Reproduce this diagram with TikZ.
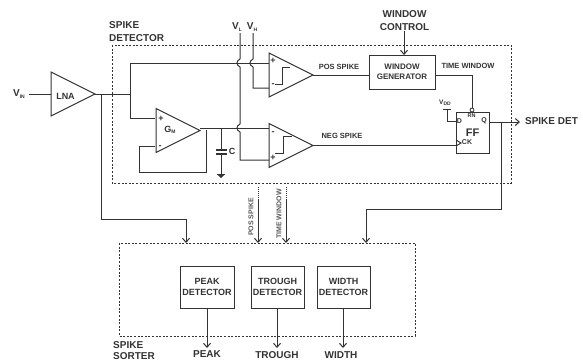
\documentclass[tikz,border=0pt]{standalone}
\usepackage{fontspec}
\setmainfont{Liberation Sans}
\usepackage{xcolor}
\definecolor{wirecolor}{rgb}{0.2, 0.2, 0.2}
\definecolor{labelgray}{rgb}{0.35, 0.35, 0.35}
\usepackage{tikz}
\usetikzlibrary{arrows.meta,shapes.geometric}
\newcommand{\fsize}[1]{\fontsize{#1}{#1pt}\selectfont\bfseries}
\newcommand{\lowidx}[2]{#1\raisebox{-1.5pt}{\fontsize{5}{5}\selectfont #2}}
% vertical wire hopping over a horizontal one
\newcommand{\wirehop}[2]{-- (#1,#2-4) .. controls (#1-4,#2-2) and (#1-4,#2+2) .. (#1,#2+4)}
\tikzset{
  >={Straight Barb[length=4pt,width=7pt]},
  wire/.style={draw=wirecolor,line width=1pt},
  sig/.style={wire,->},
  amp/.style={isosceles triangle,isosceles triangle stretches,draw=wirecolor,line width=1pt,inner sep=0pt,outer sep=0pt,minimum width=44pt,minimum height=44pt,anchor=apex},
  block/.style={rectangle,draw=wirecolor,line width=1pt,inner sep=0pt,outer sep=0pt,align=center,text=wirecolor},
  region/.style={draw=wirecolor,line width=1pt,dash pattern=on 2pt off 1.6pt},
  txt/.style={inner sep=0pt,text=wirecolor,align=center,font=\fsize{#1}},
  txt/.default=10
}
\begin{document}
\begin{tikzpicture}[x=1pt,y=-1pt]
  \useasboundingbox (0,0) rectangle (583,362);

  % Regions
  \draw[region] (112,45) rectangle (511,183);
  \draw[region] (119,243) rectangle (415,336);
  \node[txt,align=left,anchor=west] (detname) at (109,31.5) {SPIKE\\[3pt]DETECTOR};
  \node[txt,align=left,anchor=west] (sortname) at (113,350.5) {SPIKE\\[1.5pt]SORTER};

  % Amplifiers
  \node[amp] (lna) at (95,94) {};
  \node[amp] (gm) at (200,130.5) {};
  \node[amp] (cmpa) at (313,75) {};
  \node[amp] (cmpb) at (313,145.5) {};
  \node[txt=9] (lnatxt) at (65.5,96) {LNA};
  \node[txt=9] (gmtxt) at (170,130) {\lowidx{G}{M}};

  % Blocks
  \node[block,font=\fsize{8},minimum width=66pt,minimum height=34pt] (wingen) at (402,72) {WINDOW\\[2pt]GENERATOR};
  \node[block,font=\fsize{11},minimum width=33pt,minimum height=41pt] (ff) at (472.5,132.5) {FF};
  \node[block,font=\fsize{9},minimum width=54pt,minimum height=42pt] (peak) at (207,287) {PEAK\\[2pt]DETECTOR};
  \node[block,font=\fsize{9},minimum width=53pt,minimum height=42pt] (trough) at (277.5,287) {TROUGH\\[2pt]DETECTOR};
  \node[block,font=\fsize{9},minimum width=53pt,minimum height=42pt] (width) at (343.5,287) {WIDTH\\[2pt]DETECTOR};

  % Texts
  \node[txt] (vin) at (19,94) {\lowidx{V}{IN}};
  \node[txt] (vl) at (237,27) {\lowidx{V}{L}};
  \node[txt] (vh) at (252,27) {\lowidx{V}{H}};
  \node[txt] (winctl) at (404.5,20.5) {WINDOW\\[3pt]CONTROL};
  \node[txt] (spikedet) at (551.5,121.5) {SPIKE DET};
  \node[txt=9] (ctxt) at (232,151) {C};
  \node[txt=7.5] (possp) at (339,67) {POS SPIKE};
  \node[txt=7.5] (negsp) at (342,136) {NEG SPIKE};
  \node[txt=7.5] (timew) at (468,66) {TIME WINDOW};
  \node[txt=7,text=labelgray,rotate=90] (possv) at (251,217) {POS SPIKE};
  \node[txt=7,text=labelgray,rotate=90] (timev) at (279,214) {TIME WINDOW};
  \node[txt] (peakout) at (207,354) {PEAK};
  \node[txt] (troughout) at (277,355) {TROUGH};
  \node[txt] (widthout) at (341,355) {WIDTH};
  \node[txt=6.5] (vddtxt) at (445,103) {\lowidx{V}{DD}};
  \node[txt=7] (dtxt) at (459.5,121) {D};
  \node[txt=7] (qtxt) at (484,121) {Q};
  \node[txt=7] (cktxt) at (467,142.5) {CK};
  \node[txt=5.5] (rntxt) at (471.5,116) {RN};
  \node[txt=9] at (273,61) {+};
  \node[txt=9] at (273,85) {-};
  \node[txt=9] at (273,133) {-};
  \node[txt=9] at (273,158) {+};
  \node[txt=9] at (161,119) {+};
  \node[txt=9] at (160,147) {-};

  % Pins
  \coordinate (vinpin) at (29,94);
  \coordinate (lnain) at (51,94);
  \coordinate (tap) at (101,94);
  \coordinate (split) at (130,94);
  \coordinate (gmplus) at (155,118);
  \coordinate (gmminus) at (155,146);
  \coordinate (cmpaplus) at (269,63);
  \coordinate (cmpaminus) at (269,88);
  \coordinate (cmpbminus) at (269,128);
  \coordinate (cmpbplus) at (269,160);
  \coordinate (capnode) at (221,128);
  \coordinate (qtap) at (501,122);
  \coordinate (dpin) at (456,121);
  \coordinate (vddpin) at (447,110);
  \coordinate (ckpin) at (456,143);

  % Wires
  \draw[wire] (vinpin) -- (lnain);
  \draw[wire] (lna.apex) -- (split);
  \draw[wire] (split) |- (cmpaplus);
  \draw[wire] (split) |- (gmplus);
  \draw[wire] (gmminus) -- (139,146) -- (139,172) -- (206,172) -- (206,130);
  \draw[wire] (200,128) -- (cmpbminus);
  \draw[wire] (240,33) \wirehop{240}{63} \wirehop{240}{128} -- (240,160) -- (cmpbplus);
  \draw[wire] (253,33) \wirehop{253}{63} -- (253,88) -- (cmpaminus);
  \draw[wire] (capnode) -- (221,150);
  \draw[wire,line width=1.6pt] (216,150) -- (227,150) (216,154) -- (227,154);
  \draw[wire] (221,154) -- (221,174);
  \draw[wire] (217,174) -- (225,174);
  \fill[wirecolor] (218,175) -- (224,175) -- (221,178) -- cycle;

  \draw[wire] (cmpa.apex) -- (cmpa.apex -| wingen.west);
  \draw[wire] (cmpb.apex) -- (cmpb.apex -| ckpin);
  \draw[sig] (404,31) -- (404,55);
  \node[circle,draw=wirecolor,line width=0.8pt,inner sep=0pt,minimum size=4pt] (rnbub) at (472,110) {};
  \draw[wire] (wingen.east |- cmpa.apex) -| (rnbub.north);
  \draw[wire] (vddpin) |- (dpin);
  \draw[wire] (443,109.5) -- (451,109.5);
  \draw[wire] (456,140) -- (461,143) -- (456,146);
  \draw[sig] (ff.east |- qtap) -- (520,122);

  % Comparator steps
  \draw[wire] (275,84) -- (282,84) -- (282,67) -- (290,67);
  \draw[wire] (275,153) -- (283,153) -- (283,136) -- (292,136);

  % To the sorter
  \draw[sig] (tap) -- (101,219) -| (186,243);
  \draw[sig] (qtap) -- (501,209) -| (366,243);
  \draw[wire,densely dotted,line width=0.6pt] (258,187) -- (258,199);
  \draw[sig] (258,199) -- (258,243);
  \draw[wire,densely dotted,line width=0.6pt] (286,187) -- (286,199);
  \draw[sig] (286,199) -- (286,243);
  \draw[sig] (peak.south) -- (207,348);
  \draw[sig] (277,308) -- (277,348);
  \draw[sig] (343,308) -- (343,348);
\end{tikzpicture}
\end{document}
